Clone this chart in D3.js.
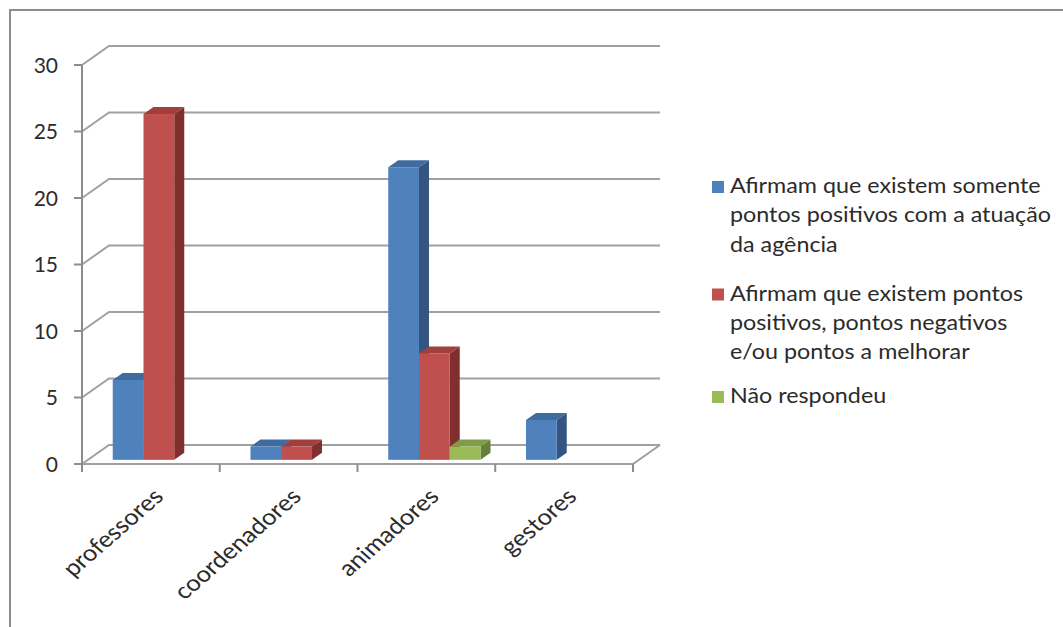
<!DOCTYPE html>
<html>
<head>
<meta charset="utf-8">
<script src="https://cdn.jsdelivr.net/npm/d3@7"></script>
<style>
  html, body { margin: 0; padding: 0; background: #fff; }
  svg { display: block; }
  text { font-family: Lato, "Open Sans", sans-serif; fill: #2b2b2b; }
</style>
</head>
<body>
<svg id="chart" width="1063" height="627"></svg>
<script>
// Categories and series
const categories = ["professores", "coordenadores", "animadores", "gestores"];
const seriesNames = [
  "Afirmam que existem somente pontos positivos com a atuação da agência",
  "Afirmam que existem pontos positivos, pontos negativos e/ou pontos a melhorar",
  "Não respondeu"
];
const seriesLegendLines = [
  ["Afirmam que existem somente", "pontos positivos com a atuação", "da agência"],
  ["Afirmam que existem pontos", "positivos, pontos negativos", "e/ou pontos a melhorar"],
  ["Não respondeu"]
];
const somentePositivos = [6, 1, 22, 3];
const positivosNegativos = [26, 1, 8, 0];
const naoRespondeu = [0, 0, 1, 0];
const yTicks = [0, 5, 10, 15, 20, 25, 30];

const seriesValues = [somentePositivos, positivosNegativos, naoRespondeu];
const frontColors = ["#4f81bd", "#c0504d", "#9bbb59"];
const topColors   = ["#3f6b9f", "#a03f3c", "#7f9c47"];
const sideColors  = ["#34557f", "#7f2f2d", "#66803a"];

const svg = d3.select("#chart");

// outer frame
svg.append("rect")
  .attr("x", 10).attr("y", 10).attr("width", 1100).attr("height", 700)
  .attr("fill", "none").attr("stroke", "#8c8c8c").attr("stroke-width", 2);

// plot geometry (front plane) and depth projection
const plotLeft = 82, plotRight = 633, plotBottom = 464, plotTop = 65;
const DX = 27, DY = -19;
const proj = (x, yy, t) => [x + t * DX, yy + t * DY];

const y = d3.scaleLinear().domain([0, 30]).range([plotBottom, plotTop]);
const x0 = d3.scaleBand().domain(categories).range([plotLeft, plotRight]);
const bw = x0.bandwidth();
const x1 = d3.scaleBand().domain(d3.range(seriesNames.length)).range([bw * 0.18, bw * 0.85]);

const grid = svg.append("g").attr("fill", "none").attr("stroke", "#a0a0a0").attr("stroke-width", 2);

// back wall gridlines + side wall diagonals
yTicks.forEach(v => {
  const a = proj(plotLeft, y(v), 0), b = proj(plotLeft, y(v), 1);
  grid.append("path").attr("d", d3.line()([a, b, [plotRight + DX, b[1]]]));
});
// floor front edge and right diagonal
grid.append("path").attr("d", d3.line()([[plotLeft, plotBottom], [plotRight, plotBottom], proj(plotRight, plotBottom, 1)]));

// y axis
const axisG = svg.append("g");
axisG.append("line").attr("x1", plotLeft).attr("x2", plotLeft).attr("y1", y(30)).attr("y2", plotBottom + 8)
  .attr("stroke", "#8c8c8c").attr("stroke-width", 2);
yTicks.forEach(v => {
  axisG.append("line").attr("x1", plotLeft - 8).attr("x2", plotLeft).attr("y1", y(v)).attr("y2", y(v))
    .attr("stroke", "#8c8c8c").attr("stroke-width", 2);
  axisG.append("text").attr("x", plotLeft - 24).attr("y", y(v)).attr("dy", "0.36em")
    .attr("text-anchor", "end").attr("font-size", 21).text(v);
});
// category ticks
d3.range(categories.length + 1).forEach(i => {
  const xx = plotLeft + i * bw;
  axisG.append("line").attr("x1", xx).attr("x2", xx).attr("y1", plotBottom).attr("y2", plotBottom + 8)
    .attr("stroke", "#8c8c8c").attr("stroke-width", 2);
});
// category labels (slanted, slightly widened)
categories.forEach(c => {
  const cx = x0(c) + bw / 2 + 14;
  svg.append("text")
    .attr("transform", `translate(${cx},${plotBottom + 34}) scale(1.15,1) rotate(-45)`)
    .attr("text-anchor", "end").attr("font-size", 22.3).text(c);
});

// 3D bars
const tFront = 0.22, tBack = 0.59;
const barsG = svg.append("g");
const poly = pts => "M" + pts.map(p => p.join(",")).join("L") + "Z";
categories.forEach((c, ci) => {
  seriesValues.forEach((vals, si) => {
    const v = vals[ci];
    if (!v) return;
    const xl = x0(c) + x1(si), xr = xl + x1.bandwidth();
    const yb = y(0), yt = y(v);
    const f = (xx, yy) => proj(xx, yy, tFront);
    const b = (xx, yy) => proj(xx, yy, tBack);
    // right side
    barsG.append("path").attr("d", poly([f(xr, yt), b(xr, yt), b(xr, yb), f(xr, yb)]))
      .attr("fill", sideColors[si]);
    // top
    barsG.append("path").attr("d", poly([f(xl, yt), b(xl, yt), b(xr, yt), f(xr, yt)]))
      .attr("fill", topColors[si]);
    // front
    const p0 = f(xl, yt);
    barsG.append("rect").attr("x", p0[0]).attr("y", p0[1])
      .attr("width", xr - xl).attr("height", yb - yt)
      .attr("fill", frontColors[si]);
  });
});

// legend
const legendStarts = [193, 300.5, 403];
const legend = svg.append("g");
seriesLegendLines.forEach((lines, si) => {
  const by = legendStarts[si];
  legend.append("rect").attr("x", 712).attr("y", by - 12).attr("width", 12).attr("height", 12)
    .attr("fill", frontColors[si]);
  const tg = legend.append("g").attr("transform", `translate(730,${by}) scale(1.11,1)`);
  lines.forEach((ln, li) => {
    tg.append("text").attr("x", 0).attr("y", li * 29.3)
      .attr("font-size", 21).text(ln);
  });
});
</script>
</body>
</html>
